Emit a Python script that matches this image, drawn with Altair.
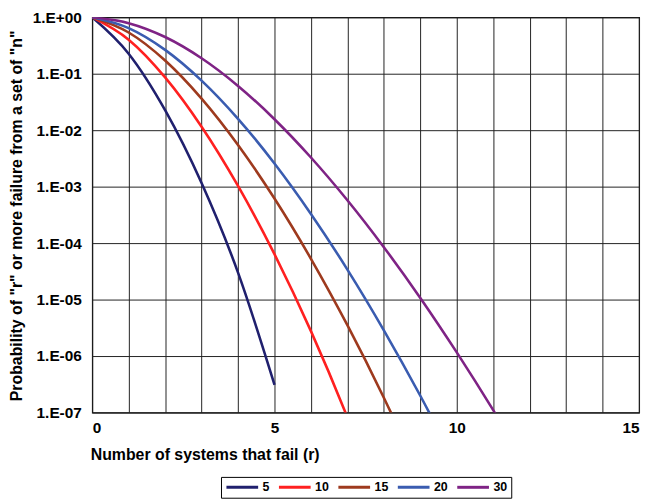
import altair as alt
import pandas as pd

# Probability of r or more failures
r5 = [0, 1, 2, 3, 4, 5]
p5 = [1.0, 0.2262, 0.02259, 0.001158, 3.0e-5, 3.1e-7]

r10 = [0, 1, 2, 3, 4, 5, 6, 7, 8]
p10 = [1.0, 0.4013, 0.08614, 0.01150, 0.001028, 6.37e-5, 2.76e-6, 8.2e-8, 1.6e-9]

r15 = [0, 1, 2, 3, 4, 5, 6, 7, 8, 9]
p15 = [1.0, 0.5367, 0.1710, 0.03620, 0.005468, 6.15e-4, 5.28e-5, 3.52e-6, 1.83e-7, 7.4e-9]

r20 = [0, 1, 2, 3, 4, 5, 6, 7, 8, 9, 10]
p20 = [1.0, 0.6415, 0.2642, 0.07548, 0.01590, 0.002574, 3.29e-4, 3.40e-5, 2.86e-6, 1.98e-7, 1.13e-8]

r30 = [0, 1, 2, 3, 4, 5, 6, 7, 8, 9, 10, 11, 12]
p30 = [1.0, 0.7854, 0.4465, 0.1878, 0.06077, 0.01564, 0.003283, 5.74e-4, 8.47e-5, 1.07e-5, 1.16e-6, 1.10e-7, 9.0e-9]

series_names = ["5", "10", "15", "20", "30"]
series_colors = ["#20206e", "#ff2020", "#9e3a1e", "#3a5cb0", "#7f2385"]
y_ticks = [1e-7, 1e-6, 1e-5, 1e-4, 1e-3, 1e-2, 1e-1, 1.0]
x_ticks = list(range(0, 16))

rows = []
for name, rs, ps in zip(series_names, [r5, r10, r15, r20, r30], [p5, p10, p15, p20, p30]):
    for r, p in zip(rs, ps):
        rows.append({"n": name, "r": r, "p": p})
df = pd.DataFrame(rows)

FONT = "Liberation Sans"

chart = alt.Chart(df).mark_line(
    interpolate="monotone", strokeWidth=2.6, clip=True
).encode(
    x=alt.X(
        "r:Q",
        scale=alt.Scale(domain=[0, 15], nice=False, zero=False),
        axis=alt.Axis(
            values=x_ticks,
            labelExpr="datum.value % 5 == 0 ? datum.value : ''",
            title="Number of systems that fail (r)",
            titleAnchor="start",
            titleAlign="left",
            titleX=-2,
            titleY=34,
            titleBaseline="top",
            labelPadding=8,
        ),
    ),
    y=alt.Y(
        "p:Q",
        scale=alt.Scale(type="log", domain=[1e-7, 1], nice=False),
        axis=alt.Axis(
            values=y_ticks,
            labelExpr="datum.value >= 1 ? '1.E+00' : '1.E-0' + round(-log(datum.value) / LN10)",
            title='Probability of "r" or more failure from a set of "n"',
            titleAngle=270,
            titleX=-76,
            titleY=200,
            titleAlign="center",
            titleBaseline="middle",
            labelPadding=11,
        ),
    ),
    color=alt.Color(
        "n:N",
        scale=alt.Scale(domain=series_names, range=series_colors),
        legend=alt.Legend(
            title=None,
            orient="none",
            direction="horizontal",
            legendX=130,
            legendY=464,
            symbolType="M-3.2,0L3.2,0",
            symbolSize=100,
            symbolOffset=11,
            symbolStrokeWidth=3,
            labelFont=FONT,
            labelFontWeight="bold",
            labelFontSize=12.5,
            labelColor="#000000",
            columnPadding=3,
            labelOffset=14,
            strokeColor="#000000",
            fillColor="#ffffff",
            padding=4,
        ),
    ),
).properties(
    width=552,
    height=399,
    background="#ffffff",
    autosize=alt.AutoSizeParams(type="none"),
    padding={"left": 85, "top": 7, "right": 5, "bottom": 88},
).configure_view(
    stroke="#000000", strokeWidth=1.2
).configure_axis(
    grid=True,
    gridColor="#222222",
    gridWidth=1,
    gridOpacity=1,
    domain=False,
    ticks=False,
    labelFont=FONT,
    labelFontWeight="bold",
    labelFontSize=15.5,
    labelColor="#000000",
    titleFont=FONT,
    titleFontWeight="bold",
    titleFontSize=16,
    titleColor="#000000",
)

chart.save("out.html", embed_options={"renderer": "svg", "actions": False})
